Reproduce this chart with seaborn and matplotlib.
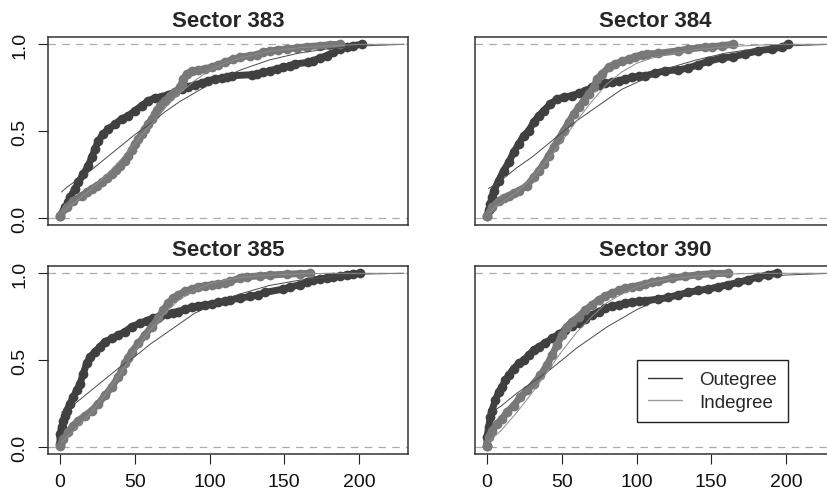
import pandas as pd
import seaborn as sns
import matplotlib.pyplot as plt
from matplotlib.lines import Line2D

sectors = ["383", "384", "385", "390"]

# ECDF points (degree, cumulative share)
out_x_383 = [0, 3.3, 5.6, 6.7, 10.0, 12.3, 15.6, 18.9, 21.2, 23.4, 25.6, 29.0, 32.3, 36.8, 41.2, 45.7, 50.1, 54.6,
             59.1, 63.5, 68.0, 72.4, 76.9, 81.4, 85.8, 90.3, 94.7, 99.2, 103.6, 108.1, 111.4, 114.8, 128.2, 131.5,
             135.9, 140.4, 144.9, 149.3, 153.8, 157.1, 166.1, 169.4, 173.9, 178.4, 182.8, 187.3, 191.7, 196.2, 201.8]
out_y_383 = [0.013, 0.061, 0.090, 0.119, 0.167, 0.205, 0.253, 0.301, 0.349, 0.397, 0.445, 0.484, 0.512, 0.541, 0.570,
             0.589, 0.618, 0.647, 0.675, 0.691, 0.699, 0.710, 0.724, 0.743, 0.756, 0.767, 0.777, 0.790, 0.800, 0.805,
             0.810, 0.819, 0.825, 0.829, 0.839, 0.848, 0.858, 0.868, 0.877, 0.887, 0.896, 0.906, 0.921, 0.935, 0.954,
             0.973, 0.983, 0.992, 1.0]
in_x_383 = [0, 4.5, 8.9, 14.5, 17.8, 21.2, 24.5, 27.9, 31.2, 34.6, 37.5, 40.1, 43.2, 45.7, 47.9, 50.1, 52.4, 54.6,
            56.8, 59.1, 61.3, 63.5, 65.2, 66.9, 70.2, 73.6, 76.9, 80.2, 81.4, 82.5, 84.7, 88.1, 92.5, 97.0, 101.4,
            105.9, 110.3, 115.9, 120.4, 127.1, 131.5, 135.9, 140.4, 146.0, 151.6, 158.3, 165.0, 173.9, 180.6, 187.3]
in_y_383 = [0.013, 0.061, 0.100, 0.129, 0.148, 0.167, 0.186, 0.205, 0.230, 0.253, 0.276, 0.301, 0.330, 0.359, 0.391,
            0.426, 0.455, 0.484, 0.512, 0.541, 0.570, 0.599, 0.622, 0.647, 0.675, 0.704, 0.724, 0.752, 0.771, 0.800,
            0.829, 0.844, 0.852, 0.860, 0.868, 0.883, 0.896, 0.915, 0.925, 0.935, 0.940, 0.954, 0.963, 0.967, 0.973,
            0.979, 0.986, 0.992, 0.998, 1.0]

out_x_384 = [0, 1.1, 2.2, 3.3, 4.5, 7.8, 11.1, 14.5, 17.8, 21.2, 24.5, 27.9, 31.2, 34.6, 37.9, 42.4, 46.8, 51.3,
             56.8, 61.3, 65.8, 70.2, 74.7, 79.2, 83.6, 88.1, 92.5, 97.0, 101.4, 105.9, 112.3, 119.0, 127.9, 134.6,
             141.3, 148.0, 156.9, 164.7, 172.5, 181.4, 190.3, 197.0, 201.5]
out_y_384 = [0.013, 0.045, 0.081, 0.120, 0.157, 0.215, 0.272, 0.320, 0.378, 0.426, 0.474, 0.503, 0.551, 0.589, 0.618,
             0.656, 0.685, 0.695, 0.704, 0.718, 0.733, 0.752, 0.767, 0.775, 0.781, 0.790, 0.800, 0.810, 0.815, 0.819,
             0.833, 0.848, 0.852, 0.864, 0.883, 0.902, 0.921, 0.929, 0.944, 0.963, 0.973, 0.983, 1.0]
in_x_384 = [0, 3.3, 7.8, 11.1, 14.5, 17.8, 21.2, 26.7, 31.2, 34.6, 37.9, 41.2, 44.6, 47.9, 51.3, 54.6, 58.0, 61.3,
            64.7, 68.0, 71.3, 73.6, 76.9, 81.4, 85.8, 90.3, 94.7, 99.2, 103.6, 107.0, 114.6, 127.9, 134.6, 145.8,
            150.2, 156.9, 164.7]
in_y_384 = [0.013, 0.061, 0.100, 0.115, 0.129, 0.143, 0.157, 0.186, 0.234, 0.272, 0.311, 0.359, 0.407, 0.455, 0.503,
            0.551, 0.599, 0.637, 0.675, 0.714, 0.752, 0.800, 0.829, 0.868, 0.887, 0.902, 0.915, 0.929, 0.940, 0.944,
            0.948, 0.963, 0.973, 0.983, 0.986, 0.992, 1.0]

out_x_385 = [0, 0, 1.1, 2.2, 3.3, 4.5, 6.7, 8.9, 11.1, 13.4, 15.6, 17.8, 20.1, 23.4, 26.7, 30.1, 34.6, 39.0, 43.5,
             47.9, 53.5, 57.9, 62.4, 66.9, 71.3, 75.8, 79.2, 83.6, 88.1, 92.5, 97.0, 101.4, 105.9, 110.3, 113.7,
             120.4, 127.1, 132.6, 137.1, 149.3, 153.8, 160.5, 164.9, 169.4, 173.9, 178.4, 182.8, 187.3, 191.7, 196.2,
             200.6]
out_y_385 = [0.017, 0.075, 0.114, 0.152, 0.181, 0.210, 0.249, 0.288, 0.326, 0.365, 0.423, 0.481, 0.519, 0.548, 0.577,
             0.606, 0.625, 0.645, 0.664, 0.693, 0.712, 0.728, 0.741, 0.755, 0.766, 0.774, 0.780, 0.793, 0.805, 0.812,
             0.818, 0.824, 0.832, 0.838, 0.847, 0.857, 0.867, 0.876, 0.890, 0.909, 0.921, 0.934, 0.948, 0.959, 0.967,
             0.973, 0.979, 0.982, 0.992, 0.996, 1.0]
in_x_385 = [0, 2.2, 5.6, 8.9, 12.3, 16.7, 21.2, 25.6, 30.1, 34.6, 39.0, 41.2, 43.5, 45.7, 47.9, 52.4, 56.8, 61.3,
            65.8, 69.1, 72.4, 75.8, 79.2, 83.6, 88.1, 92.5, 97.0, 101.4, 105.9, 110.3, 113.7, 120.4, 124.8, 133.7,
            140.4, 151.6, 160.5, 167.2]
in_y_385 = [0.008, 0.046, 0.085, 0.124, 0.152, 0.181, 0.210, 0.249, 0.297, 0.346, 0.404, 0.440, 0.481, 0.515, 0.548,
            0.596, 0.645, 0.693, 0.741, 0.789, 0.828, 0.857, 0.876, 0.896, 0.909, 0.921, 0.928, 0.934, 0.940, 0.944,
            0.954, 0.973, 0.980, 0.985, 0.990, 0.995, 0.998, 1.0]

out_x_390 = [0, 0, 1.1, 2.2, 3.3, 5.6, 7.8, 10.0, 12.3, 14.5, 17.8, 21.2, 24.5, 27.9, 31.2, 34.6, 39.0, 43.5, 47.9,
             52.4, 56.8, 61.3, 65.8, 70.2, 74.7, 79.2, 83.6, 88.1, 92.5, 97.0, 101.4, 105.9, 114.6, 121.3, 128.0,
             134.6, 141.3, 148.0, 154.7, 161.4, 168.1, 174.8, 181.4, 188.1, 193.7]
out_y_390 = [0.008, 0.056, 0.114, 0.172, 0.210, 0.268, 0.316, 0.346, 0.384, 0.413, 0.452, 0.481, 0.500, 0.529, 0.558,
             0.577, 0.600, 0.625, 0.650, 0.673, 0.697, 0.716, 0.735, 0.760, 0.780, 0.799, 0.812, 0.818, 0.828, 0.834,
             0.838, 0.843, 0.851, 0.861, 0.876, 0.890, 0.901, 0.909, 0.921, 0.934, 0.948, 0.963, 0.979, 0.992, 1.0]
in_x_390 = [0, 1.1, 3.3, 6.7, 10.0, 13.4, 17.8, 22.3, 26.7, 31.2, 35.7, 40.1, 43.5, 46.8, 50.1, 53.5, 56.8, 61.3,
            65.8, 70.2, 74.7, 79.2, 83.6, 88.1, 92.5, 97.0, 101.4, 105.9, 110.3, 114.6, 123.5, 132.4, 141.3, 150.2,
            161.4]
in_y_390 = [0.008, 0.056, 0.094, 0.133, 0.162, 0.201, 0.239, 0.288, 0.326, 0.365, 0.413, 0.471, 0.529, 0.587, 0.645,
            0.693, 0.722, 0.751, 0.789, 0.818, 0.847, 0.870, 0.886, 0.901, 0.915, 0.924, 0.928, 0.940, 0.948, 0.954,
            0.973, 0.982, 0.992, 0.998, 1.0]

# fitted curves (thin lines), read at these degrees
fit_x = [1, 5, 10, 20, 30, 40, 50, 60, 70, 80, 90, 100, 110, 120, 140, 160, 180, 200, 230]
out_fit_383 = [0.15, 0.18, 0.21, 0.27, 0.34, 0.41, 0.48, 0.54, 0.61, 0.67, 0.72, 0.77, 0.81, 0.85, 0.91, 0.95, 0.975, 0.99, 1.0]
in_fit_383 = [0.03, 0.06, 0.09, 0.16, 0.24, 0.33, 0.43, 0.53, 0.63, 0.72, 0.79, 0.85, 0.89, 0.92, 0.96, 0.98, 0.99, 1.0, 1.0]
out_fit_384 = [0.17, 0.19, 0.22, 0.29, 0.35, 0.42, 0.49, 0.56, 0.62, 0.68, 0.74, 0.78, 0.82, 0.86, 0.91, 0.95, 0.975, 0.99, 1.0]
in_fit_384 = [0.03, 0.06, 0.09, 0.15, 0.23, 0.33, 0.44, 0.56, 0.67, 0.77, 0.84, 0.89, 0.92, 0.94, 0.97, 0.985, 0.995, 1.0, 1.0]
out_fit_385 = [0.20, 0.22, 0.25, 0.32, 0.39, 0.46, 0.52, 0.59, 0.65, 0.71, 0.77, 0.81, 0.85, 0.88, 0.93, 0.96, 0.98, 0.995, 1.0]
in_fit_385 = [0.03, 0.06, 0.10, 0.19, 0.30, 0.42, 0.55, 0.67, 0.77, 0.85, 0.90, 0.94, 0.96, 0.975, 0.99, 0.997, 1.0, 1.0, 1.0]
out_fit_390 = [0.19, 0.21, 0.24, 0.31, 0.37, 0.43, 0.50, 0.57, 0.63, 0.69, 0.74, 0.79, 0.83, 0.86, 0.91, 0.95, 0.975, 0.99, 1.0]
in_fit_390 = [0.03, 0.06, 0.10, 0.20, 0.31, 0.43, 0.55, 0.66, 0.75, 0.83, 0.88, 0.92, 0.95, 0.965, 0.985, 0.995, 1.0, 1.0, 1.0]

series = {
    "383": (out_x_383, out_y_383, in_x_383, in_y_383, out_fit_383, in_fit_383),
    "384": (out_x_384, out_y_384, in_x_384, in_y_384, out_fit_384, in_fit_384),
    "385": (out_x_385, out_y_385, in_x_385, in_y_385, out_fit_385, in_fit_385),
    "390": (out_x_390, out_y_390, in_x_390, in_y_390, out_fit_390, in_fit_390),
}

sns.set_style("white")
plt.rcParams['font.family'] = ['Liberation Sans', 'DejaVu Sans']

W, H = 827, 502
fig = plt.figure(figsize=(W / 100, H / 100), dpi=100)

# pixel position (left, top) of every panel box, R-style grid cut at the right edge
boxes = {"383": (48, 38), "384": (475, 38), "385": (48, 267), "390": (475, 267)}
pt_pal = {"Outegree": "#404040", "Indegree": "#787878"}
fit_pal = {"Outegree": "#4a4a4a", "Indegree": "#8c8c8c"}

for sector in sectors:
    left, top = boxes[sector]
    ax = fig.add_axes([left / W, 1 - (top + 188) / H, 360 / W, 188 / H])
    ox, oy, ix, iy, ofit, ifit = series[sector]

    pts = pd.concat([pd.DataFrame({"degree": ox, "ecdf": oy, "kind": "Outegree"}),
                     pd.DataFrame({"degree": ix, "ecdf": iy, "kind": "Indegree"})])
    fits = pd.concat([pd.DataFrame({"degree": fit_x, "ecdf": ofit, "kind": "Outegree"}),
                      pd.DataFrame({"degree": fit_x, "ecdf": ifit, "kind": "Indegree"})])

    ax.axhline(0, color="#ababab", ls=(0, (6, 5)), lw=0.9, zorder=1)
    ax.axhline(1, color="#ababab", ls=(0, (6, 5)), lw=0.9, zorder=1)

    # dense dots look like a band in the original, so a thick joining line fills the gaps
    sns.lineplot(data=pts, x="degree", y="ecdf", hue="kind", hue_order=["Outegree", "Indegree"],
                 palette=pt_pal, marker="o", markersize=7, markeredgewidth=0, linewidth=5,
                 sort=False, estimator=None, legend=False, ax=ax, zorder=2)
    sns.lineplot(data=fits, x="degree", y="ecdf", hue="kind", hue_order=["Outegree", "Indegree"],
                 palette=fit_pal, linewidth=0.7, sort=False, estimator=None, legend=False, ax=ax, zorder=3)

    ax.set_xlim(-8.0, 232.7)
    ax.set_ylim(-0.04, 1.042)
    ax.set_xlabel("")
    ax.set_ylabel("")
    ax.set_title(f"Sector {sector}", fontsize=16, fontweight="bold", pad=8)

    if sector in ("385", "390"):
        ax.set_xticks([0, 50, 100, 150, 200])
        ax.set_xticklabels(["0", "50", "100", "150", "200"])
    else:
        ax.set_xticks([])
    if sector in ("383", "385"):
        ax.set_yticks([0, 0.5, 1.0])
        ax.set_yticklabels(["0.0", "0.5", "1.0"], rotation=90, va="center")
    else:
        ax.set_yticks([])

    ax.tick_params(axis="both", bottom=True, left=True, length=7, width=0.8, color="#222222",
                   labelsize=14, pad=7, labelcolor="#111111")
    for sp in ax.spines.values():
        sp.set_color("#333333")
        sp.set_linewidth(1.1)

    if sector == "390":
        handles = [Line2D([0], [0], color="#333333", lw=1.0), Line2D([0], [0], color="#9a9a9a", lw=1.0)]
        leg = ax.legend(handles, ["Outegree", "Indegree"], loc="upper left", bbox_to_anchor=(0.45, 0.5),
                        frameon=True, fancybox=False, edgecolor="#222222", fontsize=13.5, handlelength=1.8,
                        handletextpad=0.9, borderpad=0.6, labelspacing=0.28, borderaxespad=0, framealpha=1)
        leg.get_frame().set_linewidth(1.0)

fig.savefig("out.png", dpi=100)
